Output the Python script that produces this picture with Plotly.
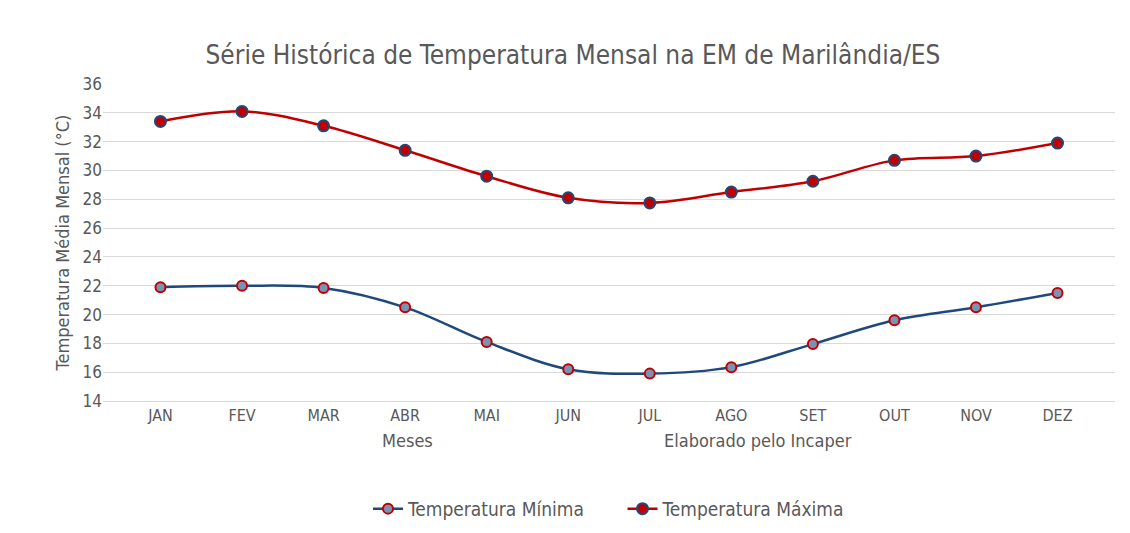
import plotly.graph_objects as go

meses = ["JAN", "FEV", "MAR", "ABR", "MAI", "JUN", "JUL", "AGO", "SET", "OUT", "NOV", "DEZ"]
temp_min = [21.9, 22.0, 21.85, 20.5, 18.1, 16.2, 15.9, 16.35, 17.95, 19.6, 20.5, 21.5]
temp_max = [33.4, 34.1, 33.1, 31.4, 29.6, 28.1, 27.75, 28.5, 29.25, 30.7, 31.0, 31.9]

fig = go.Figure()
fig.add_scatter(x=meses, y=temp_min, name="Temperatura Mínima      ", mode="lines+markers",
                line=dict(color="#1F497D", width=2.5, shape="spline"),
                marker=dict(size=10, color="#7A93B5", line=dict(color="#C00000", width=2)))
fig.add_scatter(x=meses, y=temp_max, name="Temperatura Máxima", mode="lines+markers",
                line=dict(color="#C00000", width=2.5, shape="spline"),
                marker=dict(size=11, color="#C00000", line=dict(color="#1F497D", width=2)))

fig.update_layout(
    width=1130, height=533, plot_bgcolor="white", paper_bgcolor="white",
    font=dict(family="DejaVu Sans Condensed, Open Sans", color="#595959", size=16),
    title=dict(text="Série Histórica de Temperatura Mensal na EM de Marilândia/ES",
               x=0.5, xanchor="center", y=0.93, font=dict(size=26, color="#595959")),
    margin=dict(l=95, r=23, t=76, b=140, autoexpand=False),
    legend=dict(orientation="h", x=0.5, xanchor="center", y=-0.34, yanchor="middle",
                font=dict(size=19)),
    xaxis=dict(showgrid=False, showline=True, linecolor="#D9D9D9", ticks="",
               tickfont=dict(size=16), automargin=False),
    yaxis=dict(range=[14, 36], dtick=2, gridcolor="#D9D9D9", zeroline=False,
               tickfont=dict(size=17), automargin=False,
               title=dict(text="Temperatura Média Mensal (°C)", font=dict(size=18), standoff=8)),
    annotations=[
        dict(text="Meses", x=0.274, y=-0.165, xref="paper", yref="paper",
             showarrow=False, font=dict(size=18)),
        dict(text="Elaborado pelo Incaper", x=0.647, y=-0.165, xref="paper", yref="paper",
             showarrow=False, font=dict(size=18)),
    ],
)

fig.write_html("out.html")
